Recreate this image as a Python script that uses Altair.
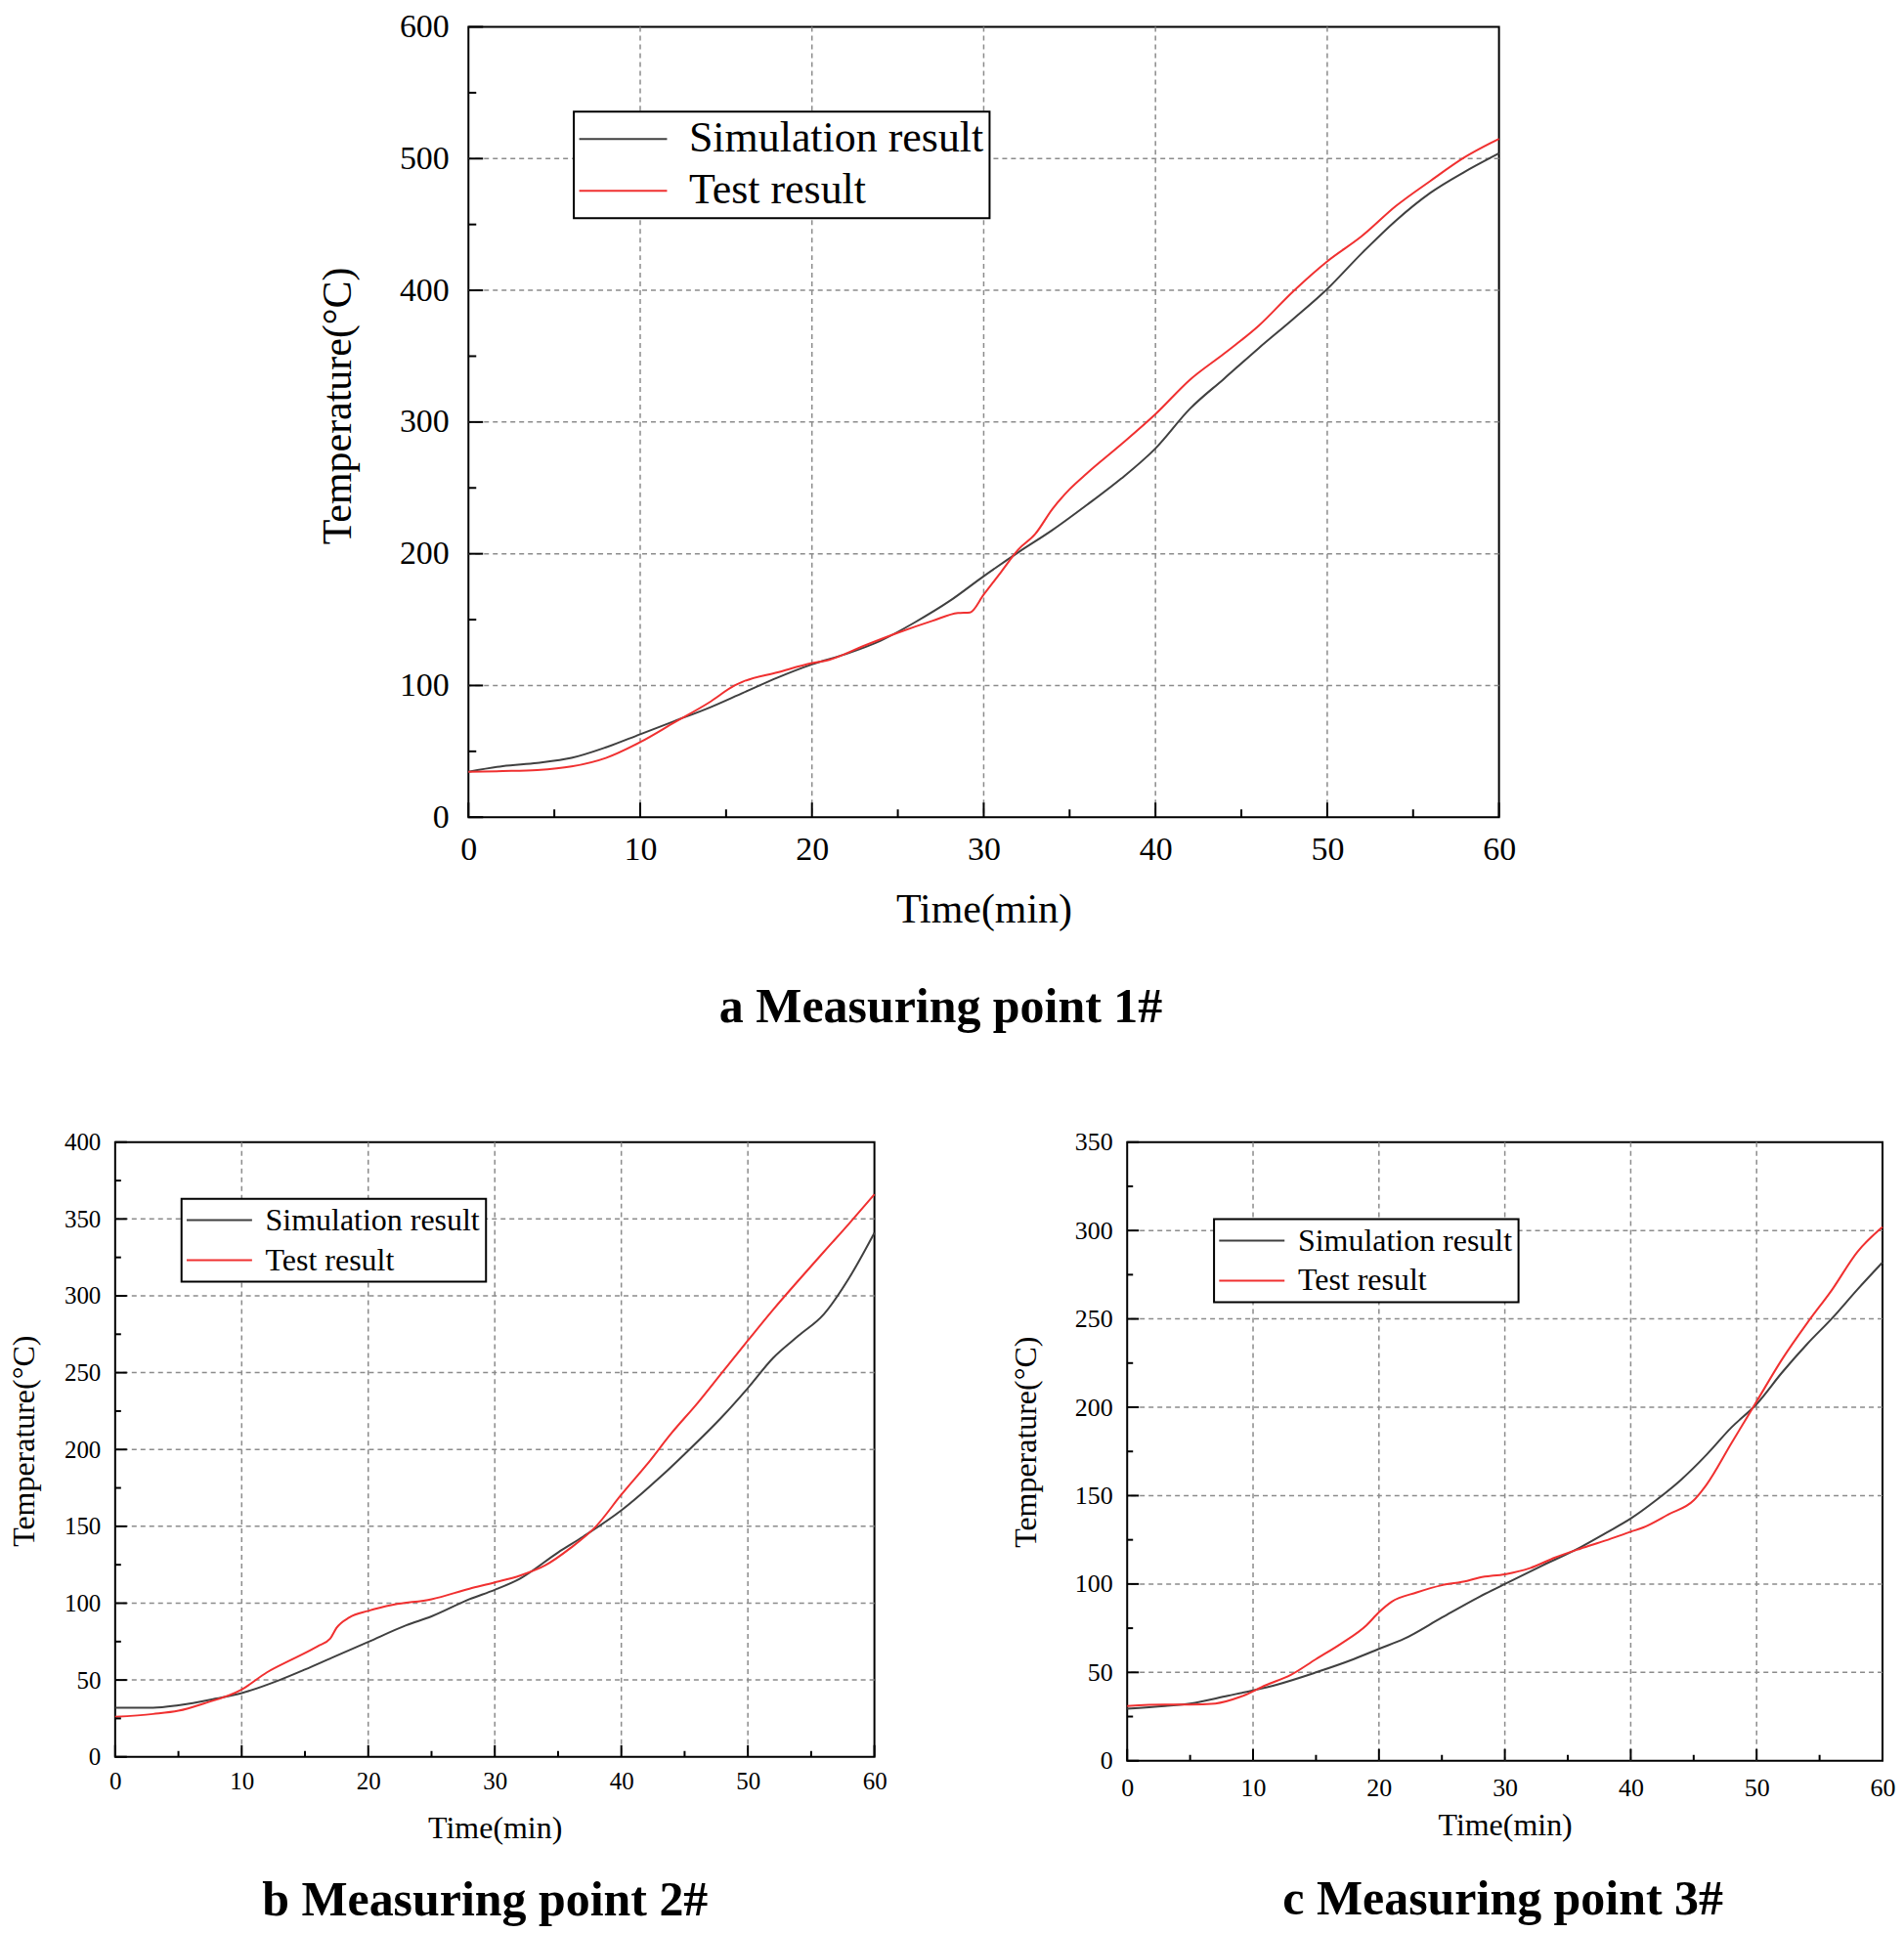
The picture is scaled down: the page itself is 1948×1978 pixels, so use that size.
import altair as alt
import pandas as pd

FONT = "Liberation Serif"
SIM = "Simulation result"
TEST = "Test result"
LINE_COLORS = ["#404040", "#f03030"]
GRID_COLOR = "#8c8c8c"

# ---------------- panel a : Measuring point 1# ----------------
a_sim_t = [0, 2, 4, 6, 8, 10, 12, 14, 16, 18, 20, 22, 24, 26, 28, 30, 32, 34, 36, 38,
           40, 42, 44, 46, 48, 50, 52, 54, 56, 58, 60]
a_sim_v = [34.5, 38.8, 41.2, 45, 53, 63, 73, 83, 94.5, 106, 116, 124, 134, 148, 164, 183,
           201, 218, 237, 257, 280, 310, 333, 356, 378, 401, 428, 453, 474, 490, 504]
a_test_t = [0, 2, 4, 6, 8, 10, 12, 14, 15.5, 16, 18, 20, 21, 23, 25, 27, 28.5, 29.2, 30,
            31, 32, 33, 34, 35, 36, 38, 40, 42, 44, 46, 48, 50, 52, 54, 56, 58, 60]
a_test_v = [34.5, 35, 35.8, 38.5, 45, 57, 72, 87, 100, 103, 110, 117, 119.5, 130, 140, 149,
            155, 155.5, 169, 186, 203, 215, 234, 249, 261, 283, 306, 332, 352, 373, 399,
            422, 441, 464, 483, 501, 515]
a_x_ticks = [0, 10, 20, 30, 40, 50, 60]
a_x_minor = [5, 15, 25, 35, 45, 55]
a_y_ticks = [0, 100, 200, 300, 400, 500, 600]
a_y_minor = [50, 150, 250, 350, 450, 550]

# ---------------- panel b : Measuring point 2# ----------------
b_sim_t = [0, 3, 5, 8, 10, 13, 15, 17, 20, 23, 25, 28, 30, 32, 35, 37, 40, 43, 45, 48,
           50, 52, 54, 56, 58, 60]
b_sim_v = [32, 32, 33.6, 38, 41.5, 50, 56.8, 64, 74.8, 85.6, 91.4, 102.6, 108.7, 116, 133,
           143.4, 160.4, 181.5, 197, 221.6, 240, 259.6, 274, 288, 311.6, 341]
b_test_t = [0, 3, 5, 7, 10, 12, 14, 16, 17, 17.5, 18.5, 20, 22, 25, 28, 30, 32, 34, 36,
            38, 40, 42, 44, 46, 48, 50, 52, 54, 56, 58, 60]
b_test_v = [26, 27.9, 30, 34.7, 43.8, 55, 63.5, 72, 77, 84, 90.7, 95, 99, 102.6, 109.4,
            113.5, 118, 124.7, 136, 150, 170.6, 190, 211, 230, 250.5, 270.9, 291, 310,
            328.6, 347, 366]
b_x_ticks = [0, 10, 20, 30, 40, 50, 60]
b_x_minor = [5, 15, 25, 35, 45, 55]
b_y_ticks = [0, 50, 100, 150, 200, 250, 300, 350, 400]
b_y_minor = [25, 75, 125, 175, 225, 275, 325, 375]

# ---------------- panel c : Measuring point 3# ----------------
c_sim_t = [0, 3, 5, 8, 10, 12, 15, 18, 20, 22, 25, 28, 30, 33, 36, 38, 40, 42, 44, 46,
           48, 50, 52, 54, 56, 58, 60]
c_sim_v = [29.5, 31, 32.4, 36.8, 39.8, 43.3, 50, 57.5, 63.3, 69, 81, 92.8, 100, 110.5,
           120.8, 128.8, 137, 147.3, 159, 173, 188.6, 201.8, 219.5, 235.7, 250.4, 266.6, 282]
c_test_t = [0, 3, 5, 7, 9, 11, 13, 15, 17, 19, 20, 21, 23, 25, 27, 28, 30, 32, 34, 36,
            38, 40, 41, 43, 45, 46, 48, 50, 52, 54, 56, 58, 60]
c_test_v = [31, 31.8, 31.8, 32.4, 36.2, 42.7, 48.6, 57.5, 66.3, 76.6, 84, 89.9, 95.2,
            99.3, 101.7, 103.7, 105.5, 109, 115, 120, 124.6, 129.6, 132, 139.4, 147.3,
            156, 179.7, 203.3, 226.9, 247.5, 266.6, 287.9, 302]
c_x_ticks = [0, 10, 20, 30, 40, 50, 60]
c_x_minor = [5, 15, 25, 35, 45, 55]
c_y_ticks = [0, 50, 100, 150, 200, 250, 300, 350]
c_y_minor = [25, 75, 125, 175, 225, 275, 325]


def panel(title, sim_t, sim_v, test_t, test_v, xt, xm, yt, ym, s):
    W, H = s["w"], s["h"]
    xs = alt.Scale(domain=[xt[0], xt[-1]], nice=False, zero=False)
    ys = alt.Scale(domain=[yt[0], yt[-1]], nice=False, zero=False)
    df = pd.DataFrame({
        "t": list(sim_t) + list(test_t),
        "T": list(sim_v) + list(test_v),
        "series": [SIM] * len(sim_t) + [TEST] * len(test_t),
    })
    xaxis = alt.Axis(
        title="Time(min)", values=xt, format="d", grid=False, ticks=False, tickSize=0,
        domain=False, labelFlush=False, labelOverlap=False, labelFont=FONT,
        labelFontSize=s["lf"], labelColor="black", labelPadding=s["xlp"],
        titleFont=FONT, titleFontSize=s["tf"], titleFontWeight="normal",
        titleColor="black", titleBaseline="middle", titleY=s["xty"],
    )
    yaxis = alt.Axis(
        title="Temperature(°C)", values=yt, format="d", grid=False, ticks=False,
        tickSize=0, domain=False, labelFlush=False, labelOverlap=False, labelFont=FONT,
        labelFontSize=s["lf"], labelColor="black", labelPadding=s["ylp"],
        titleFont=FONT, titleFontSize=s["tf"], titleFontWeight="normal",
        titleColor="black", titleAngle=270, titleBaseline="middle", titleAlign="center",
        titleX=s["ytx"], titleY=s["yty"],
    )

    def X(field):
        return alt.X(field, scale=xs, axis=xaxis)

    def Y(field):
        return alt.Y(field, scale=ys, axis=yaxis)

    grid_x = alt.Chart(pd.DataFrame({"t": xt[1:-1]})).mark_rule(
        color=GRID_COLOR, strokeDash=[5, 4], strokeWidth=1.5
    ).encode(x=X("t:Q"))
    grid_y = alt.Chart(pd.DataFrame({"T": yt[1:-1]})).mark_rule(
        color=GRID_COLOR, strokeDash=[5, 4], strokeWidth=1.5
    ).encode(y=Y("T:Q"))

    legend = alt.Legend(
        title=None, orient="none", legendX=s["lx"], legendY=s["ly"],
        direction="vertical", symbolType="M-1.5,0H4.5", symbolSize=s["ss"],
        symbolStrokeWidth=2, labelFont=FONT, labelFontSize=s["legf"],
        labelColor="black", labelOffset=s["lo"], labelLimit=1000,
        rowPadding=s["rp"], padding=6, strokeColor="black", fillColor="white",
    )
    lines = alt.Chart(df).mark_line(strokeWidth=2, interpolate="monotone").encode(
        x=X("t:Q"),
        y=Y("T:Q"),
        color=alt.Color("series:N", scale=alt.Scale(domain=[SIM, TEST], range=LINE_COLORS),
                        legend=legend),
    )

    def x_ticks(vals, L):
        return alt.Chart(pd.DataFrame({"t": vals})).mark_rule(
            color="black", strokeWidth=2
        ).encode(x=X("t:Q"), y=alt.value(H), y2=alt.value(H - L))

    def y_ticks(vals, L):
        return alt.Chart(pd.DataFrame({"T": vals})).mark_rule(
            color="black", strokeWidth=2
        ).encode(y=Y("T:Q"), x=alt.value(0), x2=alt.value(L))

    return alt.layer(
        grid_x, grid_y, lines,
        x_ticks(xt, s["maj"]), x_ticks(xm, s["min"]),
        y_ticks(yt, s["maj"]), y_ticks(ym, s["min"]),
    ).properties(
        width=W, height=H,
        title=alt.TitleParams(
            text=title, orient="bottom", anchor="middle", frame="group", font=FONT,
            fontSize=50, fontWeight="bold", color="black", offset=s["toff"], dx=s["tdx"],
        ),
    )


style_a = dict(w=1056, h=810, lf=34, tf=42, xlp=16, xty=94, ylp=20, ytx=-134, yty=388,
               lx=108, ly=87, ss=900, lo=68, legf=44, rp=9, maj=15, min=8, toff=55, tdx=-44)
style_b = dict(w=778, h=630, lf=25, tf=32, xlp=13, xty=73, ylp=15, ytx=-93, yty=306,
               lx=68, ly=58, ss=499, lo=48, legf=32, rp=9, maj=12, min=6, toff=34, tdx=-10)
style_c = dict(w=774, h=634, lf=26, tf=32, xlp=15, xty=66, ylp=15, ytx=-104, yty=307,
               lx=89, ly=79, ss=499, lo=48, legf=32, rp=9, maj=12, min=6, toff=36, tdx=-2)

pa = panel("a Measuring point 1#", a_sim_t, a_sim_v, a_test_t, a_test_v,
           a_x_ticks, a_x_minor, a_y_ticks, a_y_minor, style_a)
pb = panel("b Measuring point 2#", b_sim_t, b_sim_v, b_test_t, b_test_v,
           b_x_ticks, b_x_minor, b_y_ticks, b_y_minor, style_b)
pc = panel("c Measuring point 3#", c_sim_t, c_sim_v, c_test_t, c_test_v,
           c_x_ticks, c_x_minor, c_y_ticks, c_y_minor, style_c)

spacer = alt.Chart(pd.DataFrame({"s": [0]})).mark_point(opacity=0, size=1).encode(
    x=alt.value(1), y=alt.value(1)
).properties(width=205, height=10,
             view=alt.ViewBackground(stroke="transparent", fill="transparent"))

row1 = alt.hconcat(spacer, pa, spacing=0).resolve_scale(color="independent").resolve_legend(color="independent")
row2 = alt.hconcat(pb, pc, spacing=124).resolve_scale(color="independent").resolve_legend(color="independent")

chart = alt.vconcat(row1, row2, spacing=98).resolve_scale(
    color="independent"
).resolve_legend(color="independent").properties(
    padding=0, background="white"
).configure_view(stroke="black", strokeWidth=2).configure_legend(strokeWidth=2)

chart.save("out.html", embed_options={"renderer": "svg", "actions": False})
